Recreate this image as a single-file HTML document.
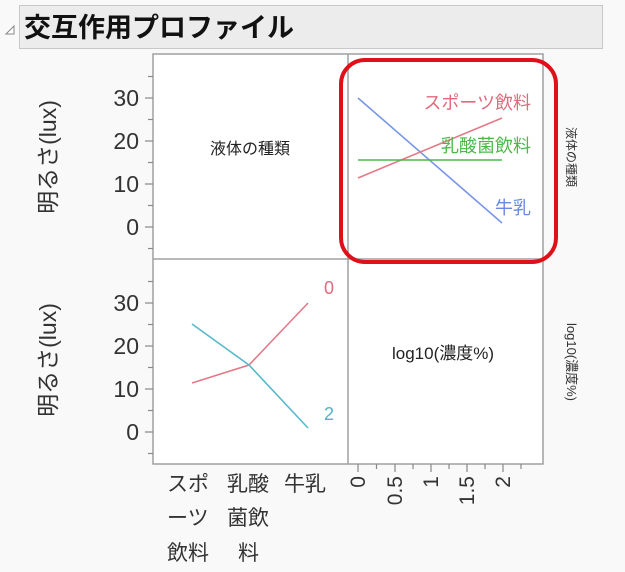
<!DOCTYPE html>
<html><head><meta charset="utf-8"><style>
html,body{margin:0;padding:0;background:#f9f9f9;}
svg{display:block;font-family:"Liberation Sans","Noto Sans CJK JP",sans-serif;}
</style></head><body>
<svg width="625" height="572" viewBox="0 0 625 572">
<rect x="0" y="0" width="625" height="572" fill="#f9f9f9"/>
<rect x="19.5" y="5.5" width="583" height="43" fill="#ececec" stroke="#c8c8c8"/>
<polygon points="6,34 14,26 14,34" fill="#fff" stroke="#888" stroke-width="1"/>
<text x="24" y="37" font-size="27" font-weight="bold" fill="#111">交互作用プロファイル</text>
<rect x="153" y="54" width="390" height="410" fill="#fff" stroke="#a0a0a0" stroke-width="1.5"/>
<line x1="348" y1="54" x2="348" y2="464" stroke="#a0a0a0" stroke-width="1.5"/>
<line x1="153" y1="259" x2="543" y2="259" stroke="#a0a0a0" stroke-width="1.5"/>
<g stroke="#888" stroke-width="1.2">
<line x1="145" y1="98" x2="153" y2="98"/><line x1="145" y1="141" x2="153" y2="141"/><line x1="145" y1="184" x2="153" y2="184"/><line x1="145" y1="227" x2="153" y2="227"/>
<line x1="148" y1="76.5" x2="153" y2="76.5"/><line x1="148" y1="119.5" x2="153" y2="119.5"/><line x1="148" y1="162.5" x2="153" y2="162.5"/><line x1="148" y1="205.5" x2="153" y2="205.5"/><line x1="148" y1="248.5" x2="153" y2="248.5"/>
<line x1="145" y1="303" x2="153" y2="303"/><line x1="145" y1="346" x2="153" y2="346"/><line x1="145" y1="389" x2="153" y2="389"/><line x1="145" y1="432" x2="153" y2="432"/>
<line x1="148" y1="281.5" x2="153" y2="281.5"/><line x1="148" y1="324.5" x2="153" y2="324.5"/><line x1="148" y1="367.5" x2="153" y2="367.5"/><line x1="148" y1="410.5" x2="153" y2="410.5"/><line x1="148" y1="453.5" x2="153" y2="453.5"/>
<line x1="358" y1="464" x2="358" y2="472"/><line x1="395" y1="464" x2="395" y2="472"/><line x1="431" y1="464" x2="431" y2="472"/><line x1="467" y1="464" x2="467" y2="472"/><line x1="503" y1="464" x2="503" y2="472"/>
<line x1="376.5" y1="464" x2="376.5" y2="469"/><line x1="413" y1="464" x2="413" y2="469"/><line x1="449" y1="464" x2="449" y2="469"/><line x1="485" y1="464" x2="485" y2="469"/><line x1="521" y1="464" x2="521" y2="469"/>
</g>
<g font-size="23" fill="#333" text-anchor="end">
<text x="139" y="106">30</text><text x="139" y="149">20</text><text x="139" y="192">10</text><text x="139" y="235">0</text>
<text x="139" y="311">30</text><text x="139" y="354">20</text><text x="139" y="397">10</text><text x="139" y="440">0</text>
</g>
<text transform="translate(56,157) rotate(-90)" font-size="23" fill="#333" text-anchor="middle">明るさ(lux)</text>
<text transform="translate(56,360) rotate(-90)" font-size="23" fill="#333" text-anchor="middle">明るさ(lux)</text>
<text x="250" y="154" font-size="16" fill="#222" text-anchor="middle">液体の種類</text>
<text x="443" y="359" font-size="17" fill="#222" text-anchor="middle">log10(濃度%)</text>
<text transform="translate(567,157) rotate(90)" font-size="12" fill="#333" text-anchor="middle">液体の種類</text>
<text transform="translate(567,362) rotate(90)" font-size="13" fill="#333" text-anchor="middle">log10(濃度%)</text>
<line x1="358" y1="98" x2="502" y2="223" stroke="#7a96e4" stroke-width="1.6"/>
<line x1="358" y1="178" x2="502" y2="118" stroke="#e27a88" stroke-width="1.6"/>
<line x1="358" y1="160" x2="502" y2="160" stroke="#4cb84c" stroke-width="1.6"/>
<g font-size="18" text-anchor="end">
<text x="531" y="109" fill="#e06a7c">スポーツ飲料</text>
<text x="531" y="152" fill="#4cb84c">乳酸菌飲料</text>
<text x="531" y="214" fill="#6a8ae0">牛乳</text>
</g>
<polyline points="192,383 249,365 308,303" fill="none" stroke="#e27a88" stroke-width="1.6"/>
<polyline points="192,324 249,365 308,428" fill="none" stroke="#58b8cc" stroke-width="1.6"/>
<text x="329" y="294" font-size="18" fill="#e06a7c" text-anchor="middle">0</text>
<text x="329" y="420" font-size="18" fill="#50b4c8" text-anchor="middle">2</text>
<rect x="341" y="60" width="215" height="202" rx="24" ry="24" fill="none" stroke="#e0101a" stroke-width="4"/>
<g font-size="21" fill="#333">
<text x="167" y="491">スポ</text><text x="167" y="525">ーツ</text><text x="167" y="560">飲料</text>
<text x="227" y="491">乳酸</text><text x="227" y="525">菌飲</text><text x="238" y="560">料</text>
<text x="284" y="491">牛乳</text>
</g>
<g font-size="21" fill="#333" text-anchor="end">
<text transform="translate(365,476) rotate(-90)">0</text>
<text transform="translate(402,476) rotate(-90)">0.5</text>
<text transform="translate(438,476) rotate(-90)">1</text>
<text transform="translate(474,476) rotate(-90)">1.5</text>
<text transform="translate(510,476) rotate(-90)">2</text>
</g>
</svg>
</body></html>
